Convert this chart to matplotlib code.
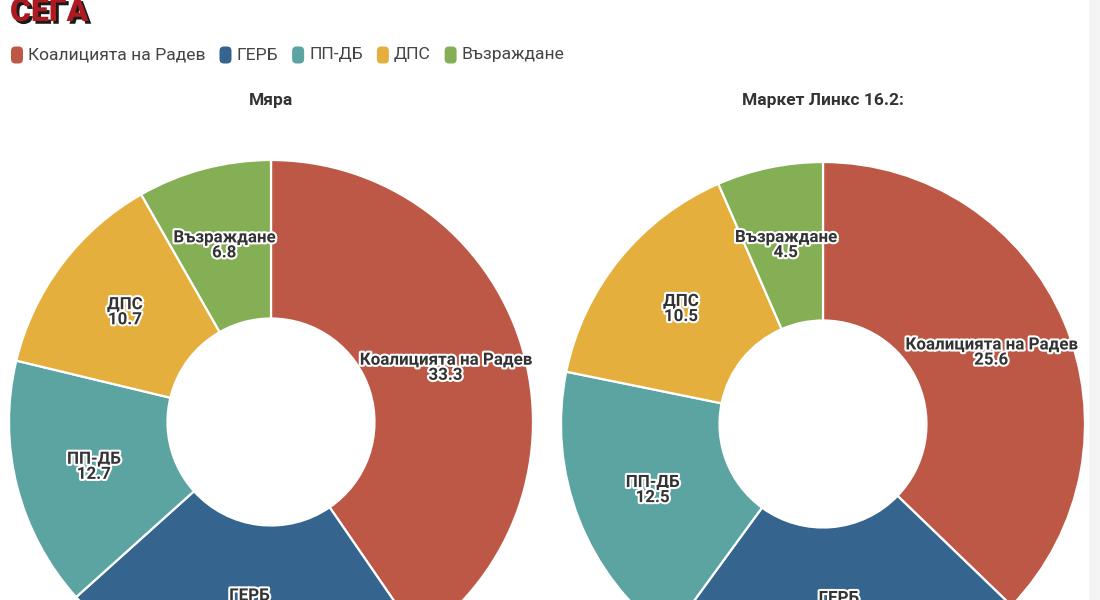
import matplotlib
matplotlib.use('Agg')
import matplotlib.pyplot as plt
import matplotlib.patheffects as pe
from matplotlib.patches import FancyBboxPatch, Rectangle
import numpy as np

# ---------------- data ----------------
parties = ['Коалицията на Радев', 'ГЕРБ', 'ПП-ДБ', 'ДПС', 'Възраждане']
colors = ['#BE5846', '#35658F', '#5BA4A2', '#E5AF3E', '#84AF54']
myara_values = [33.3, 18.9, 12.7, 10.7, 6.8]
market_links_values = [25.6, 15.7, 12.5, 10.5, 4.5]
titles = ['Мяра', 'Маркет Линкс 16.2:']
logo_text = 'СЕГА'

# ---------------- layout ----------------
W, H = 1100, 600
fig = plt.figure(figsize=(W / 100, H / 100), dpi=100)
fig.patch.set_facecolor('white')

FONT = ['Roboto', 'DejaVu Sans']
TXT = '#333333'

# faint strip on the right edge
fig.patches.append(Rectangle((1089 / W, 0), 11 / W, 1, transform=fig.transFigure,
                             facecolor='#F4F4F4', edgecolor='none', zorder=0))

# logo (cut at top)
fig.text(10 / W, 1 - 21 / H, logo_text, ha='left', va='baseline',
         fontsize=23, fontweight='black', family=FONT, color='#AD1A1F',
         path_effects=[pe.withSimplePatchShadow(offset=(2, -2), shadow_rgbFace='#1a1a1a', alpha=1.0)])

# legend (flowing)
fig.canvas.draw()
renderer = fig.canvas.get_renderer()
x = 11
ly = 55
for name, col in zip(parties, colors):
    box = FancyBboxPatch((x / W, (H - ly - 8.5) / H), 12 / W, 17 / H,
                         boxstyle='round,pad=0,rounding_size=0.004',
                         transform=fig.transFigure, facecolor=col, edgecolor='none',
                         mutation_aspect=W / H)
    fig.patches.append(box)
    t = fig.text((x + 17) / W, 1 - ly / H, name, ha='left', va='center',
                 fontsize=12.6, family=FONT, color='#444444')
    bb = t.get_window_extent(renderer=renderer)
    x = x + 17 + bb.width + 14

# pies
centers = [(271, 422), (823, 424)]
R = 262
hole = 0.395
for (cx, cy), title, vals in zip(centers, titles, [myara_values, market_links_values]):
    ax = fig.add_axes([(cx - R) / W, (H - cy - R) / H, 2 * R / W, 2 * R / H])
    wedges, _ = ax.pie(vals, colors=colors, startangle=90, counterclock=False, radius=1,
                       wedgeprops=dict(width=1 - hole, edgecolor='white', linewidth=1.6))
    ax.set_xlim(-1, 1)
    ax.set_ylim(-1, 1)
    ax.set_aspect('equal')
    ax.axis('off')
    rmid = (1 + hole) / 2
    for w, name, v in zip(wedges, parties, vals):
        ang = np.deg2rad((w.theta1 + w.theta2) / 2)
        ax.text(rmid * np.cos(ang), rmid * np.sin(ang), f'{name}\n{v}',
                ha='center', va='center', fontsize=12.2, fontweight='bold',
                family=FONT, color=TXT, linespacing=1.0,
                path_effects=[pe.withStroke(linewidth=3, foreground='white')])
    fig.text(cx / W, 1 - 101 / H, title, ha='center', va='center',
             fontsize=12.5, fontweight='bold', family=FONT, color=TXT)

fig.savefig('out.png', dpi=100, facecolor='white')
